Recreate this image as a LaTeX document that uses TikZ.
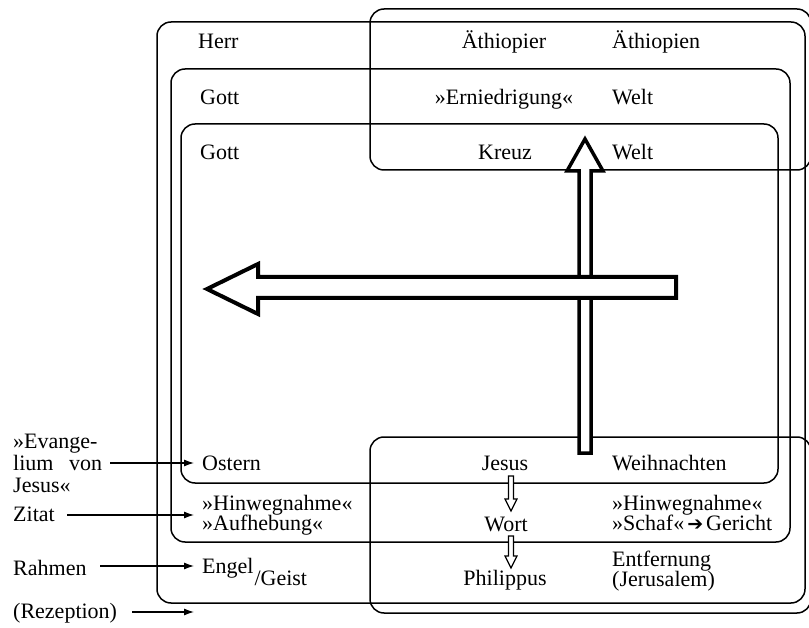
\documentclass[tikz,border=0pt]{standalone}
\usepackage{fontspec}
\setmainfont{Liberation Serif}
\newfontfamily\symfont{DejaVu Sans}
\usetikzlibrary{arrows.meta}
% lines stacked with a fixed baseline distance; the box baseline is the first line
\newcommand{\stacklines}[2]{\vtop{\baselineskip=#1\lineskiplimit=-50pt\lineskip=0pt
  \halign{##\hfil\cr#2\crcr}}}
\begin{document}
\begin{tikzpicture}[x=1pt,y=-1pt,
  frame/.style={draw, line width=1.5pt, rounded corners=14pt},
  lbl/.style={inner sep=0pt, font=\fontsize{22}{22}\selectfont},
  lw/.style={lbl, anchor=base west},
  lc/.style={lbl, anchor=base},
  bigarrow/.style={draw, fill=white, line join=miter},
  smallarrow/.style={draw, fill=white, line width=1.2pt, line join=miter},
  pointer/.style={line width=1.1pt, -{Latex[length=10pt,width=7pt]}}]
\clip (0,0) rectangle (809,628);
\fill[white] (0,0) rectangle (809,628);

% nested frames
\draw[frame] (157,22) rectangle (805,603);
\draw[frame] (171,69) rectangle (790,542);
\draw[frame] (181,124) rectangle (778,483);
\draw[frame] (370,9) rectangle (811,170);
\draw[frame] (370,437) rectangle (811,613);

% upward hollow arrow
\draw[bigarrow, line width=3.5pt]
  (579,453) -- (579,171) -- (567,171) -- (585,139) -- (603,171)
  -- (591,171) -- (591,453) -- cycle;
% leftward hollow arrow
\draw[bigarrow, line width=4pt]
  (676,277) -- (258,277) -- (258,264) -- (207,289) -- (258,314)
  -- (258,298) -- (676,298) -- cycle;

% small hollow arrows in the middle column
\draw[smallarrow] (508.5,476) -- (508.5,499) -- (505,499) -- (511,511)
  -- (517,499) -- (513.5,499) -- (513.5,476) -- cycle;
\draw[smallarrow] (508.5,536) -- (508.5,556) -- (505,556) -- (511,568)
  -- (517,556) -- (513.5,556) -- (513.5,536) -- cycle;

% texts inside the frames
\node[lw] (herr) at (198,49) {Herr};
\node[lc] (aethiopier) at (504,49) {Äthiopier};
\node[lw] (aethiopien) at (612,49) {Äthiopien};
\node[lw] (gott1) at (200,105) {Gott};
\node[lc] (ern) at (504,105) {»Erniedrigung«};
\node[lw] (welt1) at (612,105) {Welt};
\node[lw] (gott2) at (200,160) {Gott};
\node[lc] (kreuz) at (505,160) {Kreuz};
\node[lw] (welt2) at (612,160) {Welt};
\node[lw] (ostern) at (202,470) {Ostern};
\node[lc] (jesus) at (505,470) {Jesus};
\node[lw] (weih) at (612,470) {Weihnachten};
\node[lw] (zitL) at (202,510) {\stacklines{20.5pt}{»Hinwegnahme«\cr »Aufhebung«}};
\node[lc] (wort) at (506,531) {Wort};
\node[lw] (zitR) at (612,510) {\stacklines{20.5pt}{»Hinwegnahme«\cr
  »Schaf«\kern3pt{\symfont\fontsize{19}{19}\selectfont ➔}\kern3pt Gericht}};
\node[lw] (engel) at (202,573) {Engel\kern1pt\raisebox{-12pt}{/Geist}};
\node[lc] (phil) at (505,585) {Philippus};
\node[lw] (entf) at (612,566) {\stacklines{20.5pt}{Entfernung\cr (Jerusalem)}};

% labels on the left
\node[lw] (evang) at (13,448) {\stacklines{22pt}{»Evange-\cr
  \makebox[89pt][s]{lium von}\cr Jesus«}};
\node[lw] (zitat) at (13,521) {Zitat};
\node[lw] (rahmen) at (13,575) {Rahmen};
\node[lw] (rez) at (13,618) {(Rezeption)};

% pointers from the labels
\coordinate (evA) at (110,463);  \coordinate (evB) at (194,463);
\coordinate (ziA) at (67,515);   \coordinate (ziB) at (194,515);
\coordinate (raA) at (100,566);  \coordinate (raB) at (194,566);
\coordinate (reA) at (132,612);  \coordinate (reB) at (194,612);
\draw[pointer] (evA) -- (evB);
\draw[pointer] (ziA) -- (ziB);
\draw[pointer] (raA) -- (raB);
\draw[pointer] (reA) -- (reB);
\end{tikzpicture}
\end{document}
